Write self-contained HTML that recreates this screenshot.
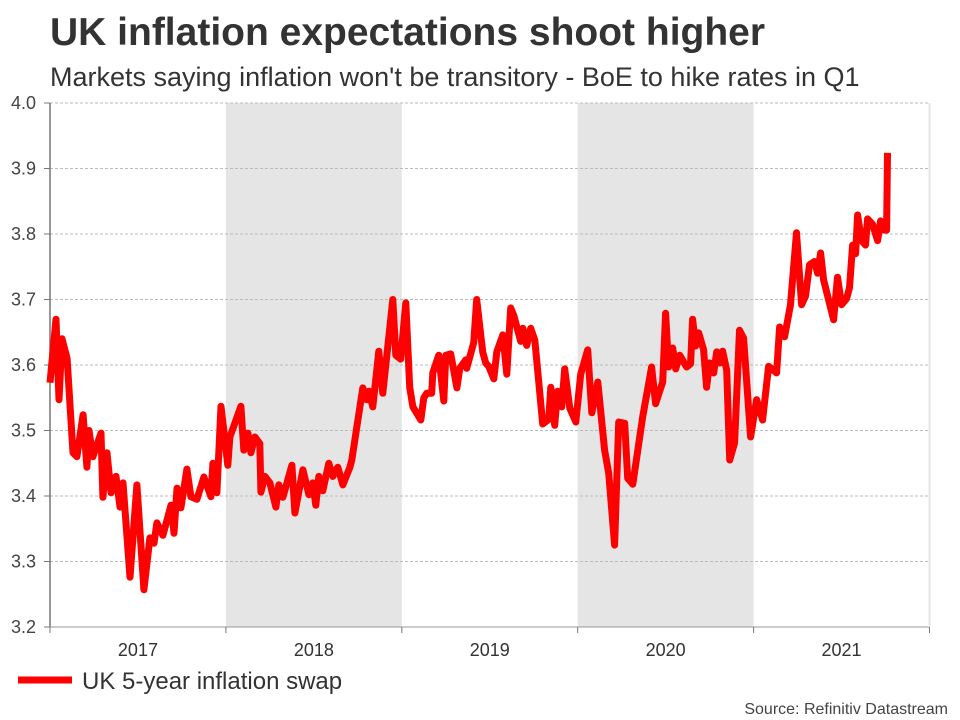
<!DOCTYPE html>
<html><head><meta charset="utf-8"><style>
body{margin:0;background:#fff;width:960px;height:720px;overflow:hidden;font-family:"Liberation Sans",Arial,sans-serif;}
svg{display:block}
</style></head><body>
<svg id="chart" width="960" height="720">
<text x="50" y="45" font-size="39" font-weight="bold" fill="#333">UK inflation expectations shoot higher</text>
<text x="50" y="86" font-size="27" fill="#333">Markets saying inflation won't be transitory - BoE to hike rates in Q1</text>
<g id="bands"></g><g id="grid"></g><g id="axes"></g><g id="series"></g>
<line x1="18" y1="680" x2="72" y2="680" stroke="#f00" stroke-width="7"/>
<text x="82" y="689" font-size="24" fill="#333">UK 5-year inflation swap</text>
<text x="948" y="714" font-size="16" fill="#444" text-anchor="end">Source: Refinitiv Datastream</text>
</svg>
<script>
const yTicks=[3.2,3.3,3.4,3.5,3.6,3.7,3.8,3.9,4.0];
const years=[2017,2018,2019,2020,2021];
const shadedYears=[2018,2020];
const dates=[0,.034,.051,.068,.097,.131,.153,.188,.210,.222,.244,.290,.301,.324,.347,.375,.398,.415,.455,.494,.534,.568,.591,.608,.642,.688,.705,.722,.744,.778,.801,.835,.875,.915,.926,.949,.972,1.011,1.023,1.085,1.102,1.125,1.142,1.165,1.193,1.199,1.222,1.25,1.284,1.301,1.324,1.375,1.392,1.438,1.472,1.494,1.511,1.528,1.551,1.585,1.608,1.636,1.665,1.705,1.716,1.778,1.801,1.813,1.835,1.869,1.892,1.949,1.966,1.994,2.023,2.045,2.063,2.108,2.125,2.142,2.170,2.176,2.210,2.239,2.25,2.278,2.313,2.330,2.364,2.369,2.409,2.426,2.460,2.477,2.494,2.523,2.540,2.574,2.597,2.619,2.636,2.676,2.688,2.710,2.733,2.756,2.801,2.835,2.847,2.869,2.886,2.909,2.926,2.955,2.989,3.017,3.057,3.080,3.114,3.153,3.176,3.210,3.233,3.267,3.284,3.313,3.369,3.420,3.443,3.483,3.5,3.517,3.540,3.557,3.580,3.619,3.642,3.653,3.670,3.688,3.716,3.733,3.750,3.773,3.790,3.807,3.824,3.847,3.864,3.892,3.920,3.943,3.983,4.017,4.051,4.085,4.131,4.148,4.176,4.210,4.244,4.273,4.295,4.318,4.347,4.364,4.381,4.398,4.455,4.477,4.5,4.528,4.545,4.563,4.580,4.591,4.614,4.636,4.648,4.676,4.705,4.722,4.744,4.756,4.761].map(d=>2017+d);
const swap=[3.573,3.67,3.547,3.64,3.61,3.466,3.46,3.524,3.444,3.50,3.46,3.496,3.398,3.466,3.405,3.43,3.383,3.42,3.276,3.417,3.257,3.336,3.328,3.359,3.34,3.386,3.343,3.412,3.382,3.441,3.399,3.395,3.429,3.399,3.45,3.405,3.537,3.447,3.49,3.537,3.47,3.496,3.466,3.49,3.48,3.406,3.43,3.42,3.383,3.417,3.398,3.447,3.374,3.44,3.402,3.42,3.386,3.43,3.408,3.45,3.43,3.444,3.417,3.444,3.455,3.565,3.547,3.56,3.536,3.621,3.557,3.70,3.615,3.609,3.695,3.566,3.536,3.516,3.55,3.557,3.557,3.588,3.615,3.545,3.615,3.617,3.565,3.595,3.608,3.595,3.634,3.70,3.62,3.603,3.598,3.579,3.62,3.646,3.586,3.687,3.676,3.636,3.656,3.63,3.656,3.638,3.51,3.517,3.566,3.508,3.56,3.536,3.594,3.534,3.513,3.586,3.623,3.527,3.574,3.47,3.435,3.325,3.513,3.511,3.427,3.418,3.52,3.597,3.541,3.574,3.679,3.597,3.626,3.594,3.615,3.597,3.602,3.67,3.629,3.649,3.623,3.566,3.603,3.588,3.62,3.603,3.621,3.592,3.455,3.481,3.653,3.641,3.49,3.547,3.516,3.598,3.588,3.658,3.643,3.692,3.802,3.692,3.705,3.753,3.758,3.74,3.771,3.73,3.669,3.734,3.692,3.701,3.718,3.783,3.77,3.829,3.79,3.783,3.823,3.815,3.79,3.82,3.806,3.806,3.924];
const X0=50,X1=929.5,T0=2017,T1=2022,Y0=627,Y1=103,V0=3.2,V1=4.0;
const xs=t=>X0+(t-T0)/(T1-T0)*(X1-X0);
const ys=v=>Y0-(v-V0)/(V1-V0)*(Y0-Y1);
const NS="http://www.w3.org/2000/svg";
function mk(tag,attrs,parent){const e=document.createElementNS(NS,tag);for(const k in attrs)e.setAttribute(k,attrs[k]);document.getElementById(parent).appendChild(e);return e;}
shadedYears.forEach(y=>{
 const r=mk('rect',{x:xs(y),y:Y1,width:xs(y+1)-xs(y),height:Y0-Y1,fill:'#e5e5e5'},'bands');
 
 
});
yTicks.forEach(v=>{
 const g=mk('line',{x1:X0,x2:X1,y1:ys(v),y2:ys(v),stroke:'#bbb','stroke-dasharray':'3,2','stroke-width':1},'grid');
 
 
 const tk=mk('line',{x1:X0-6,x2:X0,y1:ys(v),y2:ys(v),stroke:'#777'},'axes');
 
 
 const t=mk('text',{x:36,y:ys(v)+6,'font-size':18,fill:'#444','text-anchor':'end'},'axes');
 t.textContent=v.toFixed(1);
 
 
});
const ax=mk('line',{x1:X0,x2:X0,y1:Y1,y2:Y0,stroke:'#777','stroke-width':1.5},'axes');


const bx=mk('line',{x1:X0,x2:X1,y1:Y0,y2:Y0,stroke:'#999','stroke-width':1},'axes');


const rb=mk('line',{x1:X1,x2:X1,y1:Y1,y2:Y0,stroke:'#e5e5e5','stroke-width':2},'axes');


years.concat([2022]).forEach(y=>{
 const tk=mk('line',{x1:xs(y),x2:xs(y),y1:Y0,y2:Y0+6,stroke:'#777'},'axes');
 
 
});
years.forEach(y=>{
 const t=mk('text',{x:(xs(y)+xs(y+1))/2,y:656,'font-size':18,fill:'#333','text-anchor':'middle'},'axes');
 t.textContent=y;
 
 
});
const d=dates.map((t,i)=>(i?'L':'M')+xs(t).toFixed(1)+','+ys(swap[i]).toFixed(1)).join('');
const p=mk('path',{d:d,fill:'none',stroke:'#ff0000','stroke-width':7,'stroke-linejoin':'round','stroke-linecap':'butt'},'series');


</script>
</body></html>
